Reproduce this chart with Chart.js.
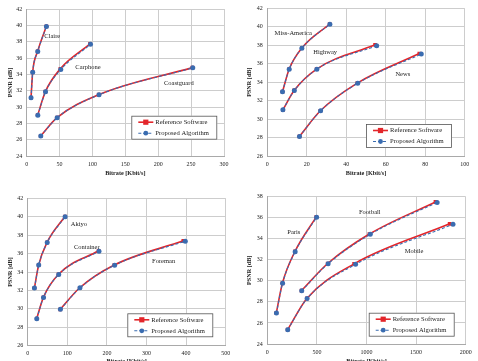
<!DOCTYPE html>
<html lang="en">
<head>
<meta charset="UTF-8">
<title>PSNR vs Bitrate</title>
<script src="https://cdn.jsdelivr.net/npm/chart.js"></script>
<style>
    body { margin: 0; width: 478px; height: 361px; overflow: hidden; position: relative; background: #fff; }
    canvas { position: absolute; }
</style>
</head>
<body>
<canvas id="c1" width="239" height="180" style="left:0;top:0"></canvas>
<canvas id="c2" width="239" height="180" style="left:239px;top:0"></canvas>
<canvas id="c3" width="239" height="188" style="left:0;top:180px"></canvas>
<canvas id="c4" width="239" height="188" style="left:239px;top:180px"></canvas>
<script>
    // 凡例テキスト
    const legendText = ['Reference Software', 'Proposed Algorithm'];

    // --- chart 1 : Claire / Carphone / Coastguard ---
    const claireRateRef = [6.6, 9.1, 16.7, 29.9];
    const clairePsnrRef = [31.14, 34.29, 36.82, 39.88];
    const claireRateProp = [6.6, 9.1, 16.8, 30.0];
    const clairePsnrProp = [31.12, 34.27, 36.8, 39.86];
    const carphoneRateRef = [16.7, 28.4, 51.2, 96.3];
    const carphonePsnrRef = [29.0, 31.88, 34.68, 37.72];
    const carphoneRateProp = [16.9, 28.6, 51.8, 97.0];
    const carphonePsnrProp = [29.0, 31.86, 34.58, 37.68];
    const coastguardRateRef = [21.3, 46.1, 109.5, 251.9];
    const coastguardPsnrRef = [26.45, 28.69, 31.51, 34.82];
    const coastguardRateProp = [21.4, 46.3, 110.0, 252.5];
    const coastguardPsnrProp = [26.45, 28.68, 31.5, 34.8];
    const chart1Names = ['Claire', 'Carphone', 'Coastguard'];
    const chart1NameX = [26.8, 73.9, 208.8];
    const chart1NameY = [38.6, 34.86, 32.9];

    // --- chart 2 : Miss-America / Highway / News ---
    const missRateRef = [7.7, 11.1, 17.6, 31.6];
    const missPsnrRef = [32.97, 35.42, 37.72, 40.3];
    const missRateProp = [7.7, 11.1, 17.5, 31.7];
    const missPsnrProp = [32.97, 35.4, 37.68, 40.28];
    const highwayRateRef = [7.9, 13.6, 25.0, 54.6];
    const highwayPsnrRef = [31.0, 33.1, 35.42, 38.05];
    const highwayRateProp = [7.9, 13.7, 25.1, 55.4];
    const highwayPsnrProp = [31.02, 33.1, 35.4, 37.95];
    const newsRateRef = [16.3, 26.9, 45.6, 77.0];
    const newsPsnrRef = [28.13, 30.9, 33.9, 37.1];
    const newsRateProp = [16.3, 27.0, 45.8, 78.0];
    const newsPsnrProp = [28.12, 30.9, 33.88, 37.05];
    const chart2Names = ['Miss-America', 'Highway', 'News'];
    const chart2NameX = [3.7, 23.3, 64.9];
    const chart2NameY = [39.3, 37.2, 34.8];

    // --- chart 3 : Akiyo / Container / Foreman ---
    const akiyoRateRef = [17.0, 27.7, 49.0, 94.0];
    const akiyoPsnrRef = [32.26, 34.76, 37.22, 40.02];
    const akiyoRateProp = [17.0, 27.8, 49.3, 94.5];
    const akiyoPsnrProp = [32.25, 34.75, 37.2, 40.0];
    const containerRateRef = [22.8, 39.7, 77.9, 179.0];
    const containerPsnrRef = [28.95, 31.25, 33.75, 36.3];
    const containerRateProp = [22.9, 39.9, 78.3, 180.0];
    const containerPsnrProp = [28.93, 31.24, 33.73, 36.26];
    const foremanRateRef = [82.2, 131.5, 218.6, 392.9];
    const foremanPsnrRef = [29.95, 32.29, 34.76, 37.38];
    const foremanRateProp = [82.6, 132.0, 219.5, 398.0];
    const foremanPsnrProp = [29.95, 32.28, 34.74, 37.35];
    const chart3Names = ['Akiyo', 'Container', 'Foreman'];
    const chart3NameX = [108.6, 117, 314];
    const chart3NameY = [39.17, 36.64, 35.15];

    // --- chart 4 : Paris / Football / Mobile ---
    const parisRateRef = [91, 153, 279, 494];
    const parisPsnrRef = [26.96, 29.8, 32.8, 36.08];
    const parisRateProp = [92, 154, 281, 497];
    const parisPsnrProp = [26.94, 29.78, 32.77, 36.05];
    const footballRateRef = [345, 609, 1029, 1695];
    const footballPsnrRef = [29.08, 31.65, 34.45, 37.5];
    const footballRateProp = [347, 613, 1038, 1712];
    const footballPsnrProp = [29.06, 31.63, 34.43, 37.46];
    const mobileRateRef = [205, 399, 875, 1838];
    const mobilePsnrRef = [25.36, 28.33, 31.62, 35.42];
    const mobileRateProp = [206, 401, 890, 1872];
    const mobilePsnrProp = [25.36, 28.32, 31.57, 35.38];
    const chart4Names = ['Paris', 'Football', 'Mobile'];
    const chart4NameX = [201.7, 924, 1385];
    const chart4NameY = [34.6, 36.54, 32.84];

    const refColor = '#e3262b';
    const propColor = '#3a6cb0';
    const gridColor = '#cdcdcd';
    const textColor = '#222';
    const serif = '"Liberation Serif", "DejaVu Serif", serif';

    function toPoints(xs, ys) {
        return xs.map((x, i) => ({ x: x, y: ys[i] }));
    }

    // 参照ソフト(赤)と提案手法(青・破線)のデータセットを作る
    function seqDatasets(rateRef, psnrRef, rateProp, psnrProp) {
        return [
            {
                label: legendText[0],
                data: toPoints(rateRef, psnrRef),
                borderColor: refColor,
                backgroundColor: refColor,
                borderWidth: 1.6,
                pointStyle: 'rect',
                pointRadius: 2.6,
                pointBorderWidth: 0,
                cubicInterpolationMode: 'monotone',
                order: 2
            },
            {
                label: legendText[1],
                data: toPoints(rateProp, psnrProp),
                borderColor: propColor,
                backgroundColor: propColor,
                borderWidth: 1.1,
                borderDash: [3, 2],
                pointStyle: 'circle',
                pointRadius: 2.5,
                pointBorderWidth: 0,
                cubicInterpolationMode: 'monotone',
                order: 1
            }
        ];
    }

    // 系列名をデータ座標で描く
    const namePlugin = {
        id: 'seqNames',
        afterDatasetsDraw(chart) {
            const o = chart.options.plugins.seqNames;
            const ctx = chart.ctx;
            ctx.save();
            ctx.font = '6.5px ' + serif;
            ctx.fillStyle = textColor;
            ctx.textAlign = 'left';
            ctx.textBaseline = 'middle';
            o.names.forEach((n, i) => {
                ctx.fillText(n, chart.scales.x.getPixelForValue(o.xs[i]), chart.scales.y.getPixelForValue(o.ys[i]));
            });
            ctx.restore();
        }
    };

    // プロット内右下の凡例
    const boxLegendPlugin = {
        id: 'boxLegend',
        afterDraw(chart) {
            const o = chart.options.plugins.boxLegend;
            const area = chart.chartArea;
            const w = 86, h = 24;
            const left = area.right - o.right - w;
            const top = area.bottom - o.bottom - h;
            const ctx = chart.ctx;
            ctx.save();
            ctx.fillStyle = '#fff';
            ctx.fillRect(left, top, w, h);
            ctx.strokeStyle = '#555';
            ctx.lineWidth = 0.8;
            ctx.strokeRect(left + 0.5, top + 0.5, w - 1, h - 1);
            const ds = chart.data.datasets;
            [0, 1].forEach(k => {
                const d = ds[k];
                const y = top + 6.5 + k * 11;
                ctx.strokeStyle = d.borderColor;
                ctx.lineWidth = d.borderWidth;
                ctx.setLineDash(d.borderDash || []);
                ctx.beginPath();
                ctx.moveTo(left + 7, y);
                ctx.lineTo(left + 22, y);
                ctx.stroke();
                ctx.setLineDash([]);
                ctx.fillStyle = d.backgroundColor;
                if (d.pointStyle === 'rect') {
                    ctx.fillRect(left + 14.5 - 2.6, y - 2.6, 5.2, 5.2);
                } else {
                    ctx.beginPath();
                    ctx.arc(left + 14.5, y, 2.4, 0, 2 * Math.PI);
                    ctx.fill();
                }
                ctx.fillStyle = textColor;
                ctx.font = '6.6px ' + serif;
                ctx.textAlign = 'left';
                ctx.textBaseline = 'middle';
                ctx.fillText(legendText[k], left + 24, y);
            });
            ctx.restore();
        }
    };

    function makeChart(id, datasets, xMax, xStep, yMin, yMax, names, lay) {
        const ctx = document.getElementById(id).getContext('2d');
        return new Chart(ctx, {
            type: 'line',
            data: { datasets: datasets },
            options: {
                responsive: false,
                animation: false,
                events: [],
                layout: { padding: { left: 0, right: lay.padR, top: lay.padT, bottom: 0 } },
                plugins: {
                    legend: { display: false },
                    tooltip: { enabled: false },
                    seqNames: names,
                    boxLegend: { right: lay.legR, bottom: lay.legB }
                },
                scales: {
                    x: {
                        type: 'linear',
                        min: 0,
                        max: xMax,
                        afterFit: s => { s.height = lay.xH; },
                        ticks: { stepSize: xStep, padding: 4.5, maxRotation: 0, color: textColor, font: { family: serif, size: 6 }, callback: v => String(v) },
                        grid: { color: gridColor, drawTicks: false },
                        border: { color: '#a9a9a9' },
                        title: { display: true, text: 'Bitrate [Kbit/s]', color: textColor, padding: { top: 0, bottom: 3 }, font: { family: serif, size: 6.2, weight: 'bold' } }
                    },
                    y: {
                        min: yMin,
                        max: yMax,
                        afterFit: s => { s.width = lay.yW; },
                        ticks: { stepSize: 2, padding: 4.5, color: textColor, font: { family: serif, size: 6 } },
                        grid: { color: gridColor, drawTicks: false },
                        border: { color: '#a9a9a9' },
                        title: { display: true, text: 'PSNR [dB]', color: textColor, padding: { top: 6.5, bottom: 0 }, font: { family: serif, size: 6.2, weight: 'bold' } }
                    }
                }
            },
            plugins: [namePlugin, boxLegendPlugin]
        });
    }

    window.onload = function () {
        makeChart('c1', [
            ...seqDatasets(claireRateRef, clairePsnrRef, claireRateProp, clairePsnrProp),
            ...seqDatasets(carphoneRateRef, carphonePsnrRef, carphoneRateProp, carphonePsnrProp),
            ...seqDatasets(coastguardRateRef, coastguardPsnrRef, coastguardRateProp, coastguardPsnrProp)
        ], 300, 50, 24, 42, { names: chart1Names, xs: chart1NameX, ys: chart1NameY },
            { yW: 26.7, padR: 15, padT: 9, xH: 24, legR: 6.7, legB: 16.3 });

        makeChart('c2', [
            ...seqDatasets(missRateRef, missPsnrRef, missRateProp, missPsnrProp),
            ...seqDatasets(highwayRateRef, highwayPsnrRef, highwayRateProp, highwayPsnrProp),
            ...seqDatasets(newsRateRef, newsPsnrRef, newsRateProp, newsPsnrProp)
        ], 100, 20, 26, 42, { names: chart2Names, xs: chart2NameX, ys: chart2NameY },
            { yW: 28.3, padR: 13.3, padT: 8.3, xH: 24, legR: 12.7, legB: 8 });

        makeChart('c3', [
            ...seqDatasets(akiyoRateRef, akiyoPsnrRef, akiyoRateProp, akiyoPsnrProp),
            ...seqDatasets(containerRateRef, containerPsnrRef, containerRateProp, containerPsnrProp),
            ...seqDatasets(foremanRateRef, foremanPsnrRef, foremanRateProp, foremanPsnrProp)
        ], 500, 100, 26, 42, { names: chart3Names, xs: chart3NameX, ys: chart3NameY },
            { yW: 27.7, padR: 13.3, padT: 18.3, xH: 22.3, legR: 12.4, legB: 8.4 });

        makeChart('c4', [
            ...seqDatasets(parisRateRef, parisPsnrRef, parisRateProp, parisPsnrProp),
            ...seqDatasets(footballRateRef, footballPsnrRef, footballRateProp, footballPsnrProp),
            ...seqDatasets(mobileRateRef, mobilePsnrRef, mobileRateProp, mobilePsnrProp)
        ], 2000, 500, 24, 38, { names: chart4Names, xs: chart4NameX, ys: chart4NameY },
            { yW: 28.3, padR: 12.3, padT: 16.7, xH: 24, legR: 11, legB: 7.3 });
    };
</script>
</body>
</html>
